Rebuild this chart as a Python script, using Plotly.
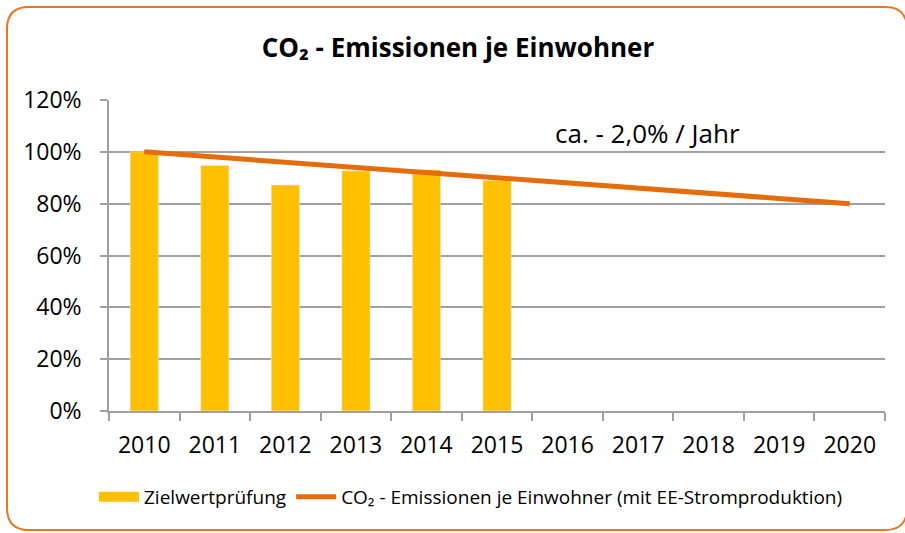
import plotly.graph_objects as go

years = ["2010", "2011", "2012", "2013", "2014", "2015", "2016", "2017", "2018", "2019", "2020"]
bar_years = ["2010", "2011", "2012", "2013", "2014", "2015"]
bar_values = [1.00, 0.947, 0.872, 0.927, 0.931, 0.89]
line_values = [1.00, 0.98, 0.96, 0.94, 0.92, 0.90, 0.88, 0.86, 0.84, 0.82, 0.80]
y_ticks = [0, 0.2, 0.4, 0.6, 0.8, 1.0, 1.2]

BAR = "#FFC000"
LINE = "#E46C0A"
FONT = "Open Sans, sans-serif"

L, R, T, B = 109, 20, 100, 122
W, H = 905, 533
pw, ph = W - L - R, H - T - B

def px(x):
    return (x - L) / pw

def py(y):
    return (H - B - y) / ph

fig = go.Figure()
fig.add_trace(go.Bar(x=bar_years, y=bar_values, marker_color=BAR, width=0.4,
                     showlegend=False, name="Zielwertprüfung"))
fig.add_trace(go.Scatter(x=[None], y=[None], mode="lines", line=dict(color=BAR, width=10),
                         name="Zielwertprüfung"))
fig.add_trace(go.Scatter(x=years, y=line_values, mode="lines", line=dict(color=LINE, width=5),
                         name="CO₂ - Emissionen je Einwohner (mit EE-Stromproduktion)"))

# rounded border
x0, x1, y0, y1, r = px(7), px(907), py(7), py(530), 22
rx, ry = r / pw, r / ph
path = (f"M {x0+rx},{y0} L {x1-rx},{y0} Q {x1},{y0} {x1},{y0-ry} "
        f"L {x1},{y1+ry} Q {x1},{y1} {x1-rx},{y1} L {x0+rx},{y1} Q {x0},{y1} {x0},{y1+ry} "
        f"L {x0},{y0-ry} Q {x0},{y0} {x0+rx},{y0} Z")
fig.add_shape(type="path", path=path, xref="paper", yref="paper",
              line=dict(color="#E87722", width=2), layer="below")

fig.add_annotation(x=px(647), y=py(133), xref="paper", yref="paper", text="ca. - 2,0% / Jahr",
                   showarrow=False, xanchor="center", yanchor="middle",
                   font=dict(family=FONT, size=26, color="#000"))

fig.update_layout(
    width=W, height=H, autosize=False,
    margin=dict(l=L, r=R, t=T, b=B, autoexpand=False),
    paper_bgcolor="white", plot_bgcolor="white",
    font=dict(family=FONT, color="#000"),
    title=dict(text="<b>CO₂ - Emissionen je Einwohner</b>", x=px(458), xref="paper",
               xanchor="center", y=1 - 48 / H, yref="container", yanchor="middle",
               font=dict(family=FONT, size=26, color="#000")),
    bargap=0.6,
    legend=dict(orientation="h", x=px(471), xanchor="center", y=py(497), yanchor="middle",
                font=dict(family=FONT, size=19), itemwidth=40, bgcolor="rgba(0,0,0,0)"),
    xaxis=dict(type="category", categoryorder="array", categoryarray=years, automargin=False,
               range=[-0.5, len(years) - 0.5],
               showline=True, linecolor="#A0A0A0", linewidth=1.5,
               ticks="outside", tickson="boundaries", ticklen=8, tickcolor="#A0A0A0", tickwidth=1.5,
               ticklabelstandoff=13,
               tickfont=dict(family=FONT, size=23), showgrid=False),
    yaxis=dict(range=[0, 1.2], tickvals=y_ticks, tickformat=".0%", automargin=False,
               showline=True, linecolor="#A0A0A0", linewidth=1.5,
               ticks="outside", ticklen=7, tickcolor="#A0A0A0", tickwidth=1.5,
               ticklabelstandoff=14,
               gridcolor="#A0A0A0", gridwidth=1.5, zeroline=False,
               tickfont=dict(family=FONT, size=23)),
)

fig.write_html("out.html", config={"displayModeBar": False},
               post_script="document.body.style.margin='0';document.body.style.overflow='hidden';")
